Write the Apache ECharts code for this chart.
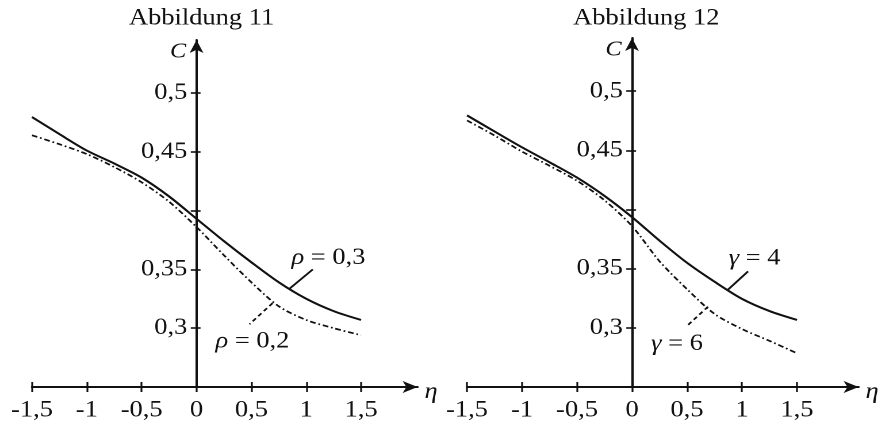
<!DOCTYPE html>
<html><head><meta charset="utf-8">
<script src="https://cdn.jsdelivr.net/npm/echarts@6/dist/echarts.min.js"></script>
<style>
html,body{margin:0;padding:0;background:#fff;overflow:hidden;width:882px;height:423px}
#c{width:767px;height:423px;transform:scaleX(1.15);transform-origin:0 0;}
</style></head>
<body><div id="c"></div>
<script>
// ---- data ----
const titles = ['Abbildung 11', 'Abbildung 12'];
const eta = [-1.5, -1.25, -1, -0.75, -0.5, -0.25, 0, 0.25, 0.5, 0.75, 1, 1.25, 1.5];
const rho03 = [0.4795, 0.465, 0.451, 0.440, 0.428, 0.412, 0.393, 0.374, 0.356, 0.339, 0.325, 0.3145, 0.307];
const rho02 = [0.464, 0.4564, 0.448, 0.437, 0.424, 0.4075, 0.386, 0.362, 0.339, 0.3186, 0.307, 0.300, 0.294];
const gamma4 = [0.4796, 0.466, 0.4526, 0.440, 0.427, 0.4115, 0.3936, 0.3737, 0.355, 0.339, 0.3245, 0.3142, 0.3067];
const gamma6 = [0.4753, 0.4626, 0.449, 0.437, 0.4243, 0.4078, 0.386, 0.3563, 0.3327, 0.3118, 0.299, 0.289, 0.2785];
const xTicks = [-1.5, -1, -0.5, 0, 0.5, 1, 1.5];
const yTicks = [0.3, 0.35, 0.4, 0.45, 0.5];
const yLabels = [0.3, 0.35, 0.45, 0.5];
const seriesNames = [['ρ = 0,3', 'ρ = 0,2'], ['γ = 4', 'γ = 6']];

// ---- annotation placement (leader lines and label anchors, data coords) ----
const leaders = [
  [[[0.84, 0.333], [1.06, 0.350]], [[0.693, 0.3213], [0.483, 0.3034]]],
  [[[0.873, 0.3323], [1.055, 0.3477]], [[0.691, 0.3179], [0.491, 0.3009]]]
];
const labelAnchors = [
  [[1.203, 0.3598], [0.51, 0.2888]],
  [[1.114, 0.3587], [0.409, 0.2864]]
];

const FONT = '"Liberation Serif", "Times New Roman", serif';
const INK = '#111';
const fmt = v => String(v).replace('.', ',');

const grids = [
  {left: 27.8, top: 40, width: 335.3, height: 347, containLabel: false, outerBoundsMode: 'none'},
  {left: 406.1, top: 38, width: 340.5, height: 349, containLabel: false, outerBoundsMode: 'none'}
];
const xMin = -1.5;
const xMax = [2.015, 2.06];
const titleX = [170.3, 557];

const xAxis = [], yAxis = [], series = [], title = [];
for (let g = 0; g < 2; g++) {
  // the vertical axis crosses the horizontal one at eta = 0
  const crossOffset = -grids[g].width * (0 - xMin) / (xMax[g] - xMin);
  title.push({text: titles[g], left: titleX[g], top: 2, textAlign: 'center',
    textStyle: {fontFamily: FONT, fontSize: 23, fontWeight: 'normal', color: INK}});
  xAxis.push({type: 'value', gridIndex: g, min: xMin, max: xMax[g], position: 'bottom',
    axisLine: {onZero: false, show: true, symbol: ['none', 'arrow'], symbolSize: [9, 13],
      lineStyle: {color: INK, width: 2}},
    axisTick: {show: true, customValues: xTicks, length: 5, lineStyle: {color: INK, width: 1.6}},
    axisLabel: {show: true, customValues: xTicks, formatter: fmt, margin: 12,
      fontFamily: FONT, fontSize: 23, color: INK},
    splitLine: {show: false},
    name: '{e|η}', nameLocation: 'end', nameGap: 6,
    nameTextStyle: {fontFamily: FONT, fontStyle: 'italic', fontSize: 23, color: INK,
      rich: {e: {fontFamily: FONT, fontStyle: 'italic', fontSize: 23, color: INK, padding: [10, 0, 0, 0]}}}
  });
  xAxis.push({type: 'value', gridIndex: g, min: xMin, max: xMax[g], position: 'bottom',
    axisLine: {onZero: false, show: false},
    axisTick: {show: true, inside: true, customValues: xTicks, length: 5, lineStyle: {color: INK, width: 1.6}},
    axisLabel: {show: false}, splitLine: {show: false}
  });
  yAxis.push({type: 'value', gridIndex: g, min: 0.25, max: 0.545, position: 'left', offset: crossOffset,
    axisLine: {onZero: false, show: true, symbol: ['none', 'arrow'], symbolSize: [9, 13],
      lineStyle: {color: INK, width: 2}},
    axisTick: {show: true, customValues: yTicks, length: 5, lineStyle: {color: INK, width: 1.6}},
    axisLabel: {show: true, customValues: yLabels, formatter: fmt, margin: 8,
      fontFamily: FONT, fontSize: 23, color: INK},
    splitLine: {show: false},
    name: 'C', nameLocation: 'end', nameGap: -12,
    nameTextStyle: {fontFamily: FONT, fontStyle: 'italic', fontSize: 21, color: INK,
      align: 'right', verticalAlign: 'middle', padding: [0, 9, 0, 0]}
  });
  yAxis.push({type: 'value', gridIndex: g, min: 0.25, max: 0.545, position: 'left', offset: crossOffset,
    axisLine: {onZero: false, show: false},
    axisTick: {show: true, inside: true, customValues: yTicks, length: 3.5, lineStyle: {color: INK, width: 1.6}},
    axisLabel: {show: false}, splitLine: {show: false}
  });
}

const curves = [[rho03, rho02], [gamma4, gamma6]];
for (let g = 0; g < 2; g++) {
  for (let k = 0; k < 2; k++) {
    const dashed = k === 1;
    series.push({type: 'line', xAxisIndex: 2 * g, yAxisIndex: 2 * g, name: seriesNames[g][k],
      data: eta.map((x, i) => [x, curves[g][k][i]]),
      smooth: 0.3, showSymbol: false, symbol: 'none', silent: true,
      lineStyle: dashed ? {color: INK, width: 1.7, type: [5, 2.5, 1.5, 2.5]} : {color: INK, width: 2}
    });
    series.push({type: 'line', xAxisIndex: 2 * g, yAxisIndex: 2 * g,
      data: leaders[g][k], showSymbol: false, symbol: 'none', silent: true,
      lineStyle: dashed ? {color: INK, width: 1.7, type: [4, 3]} : {color: INK, width: 1.8}
    });
    const parts = seriesNames[g][k].split(' = ');
    series.push({type: 'scatter', xAxisIndex: 2 * g, yAxisIndex: 2 * g, silent: true,
      data: [labelAnchors[g][k]], symbol: 'circle', symbolSize: 0,
      itemStyle: {color: INK},
      label: {show: true, position: 'inside', color: INK, opacity: 1, textBorderWidth: 0,
        formatter: '{i|' + parts[0] + '}{n| = ' + parts[1] + '}',
        rich: {
          i: {fontFamily: FONT, fontStyle: 'italic', fontSize: 23, color: INK, textBorderWidth: 0},
          n: {fontFamily: FONT, fontSize: 23, color: INK, textBorderWidth: 0}
        }}
    });
  }
}

const chart = echarts.init(document.getElementById('c'), null, {renderer: 'canvas', devicePixelRatio: 2});
chart.setOption({animation: false, backgroundColor: '#fff', title, grid: grids, xAxis, yAxis, series});
</script>
</body></html>
